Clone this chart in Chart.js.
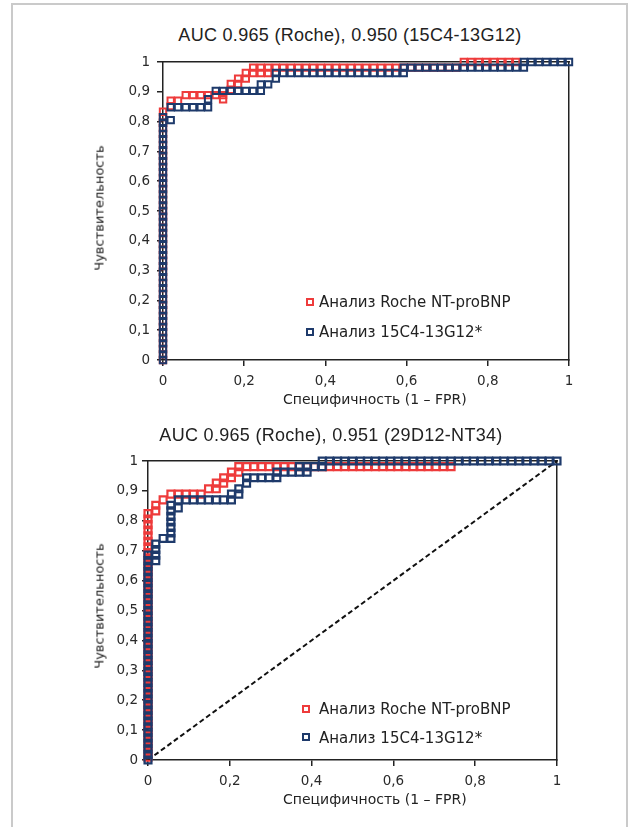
<!DOCTYPE html>
<html><head><meta charset="utf-8">
<script src="https://cdn.jsdelivr.net/npm/chart.js@4"></script>
<style>
html,body{margin:0;padding:0;background:#fff;width:636px;height:827px;overflow:hidden;position:relative}
.frame{position:absolute;left:11px;top:3px;width:613px;height:900px;border:2px solid #cacaca;border-bottom:none}
canvas{position:absolute}
.t{position:absolute;white-space:nowrap;line-height:1;color:#222}
.title{font-family:"Liberation Sans",Arial,sans-serif;font-size:18px;letter-spacing:0.3px;transform:translateX(-50%)}
.axt{font-family:"DejaVu Sans",sans-serif;font-size:14px}
.yt{font-family:"DejaVu Sans",sans-serif;font-size:13px;transform:translate(-50%,-50%) rotate(-90deg)}
.leg{font-family:"DejaVu Sans",sans-serif;font-size:15px}
.sq{position:absolute;width:4px;height:4px;border:2px solid}
</style></head><body>
<div class="frame"></div>

<div class="t title" style="left:350px;top:26px">AUC 0.965 (Roche), 0.950 (15C4-13G12)</div>
<canvas id="c1" width="560" height="380" style="left:60px;top:40px"></canvas>
<div class="t yt" style="left:98.5px;top:208px">Чувствительность</div>
<div class="t axt" style="left:283px;top:392px">Специфичность (1 – FPR)</div>
<span class="sq" style="left:306px;top:297.7px;border-color:#ee3b3b"></span>
<div class="t leg" style="left:319px;top:294.6px">Анализ Roche NT-proBNP</div>
<span class="sq" style="left:306px;top:327.7px;border-color:#1e3a6b"></span>
<div class="t leg" style="left:319px;top:324.6px">Анализ 15C4-13G12*</div>

<div class="t title" style="left:331px;top:426px">AUC 0.965 (Roche), 0.951 (29D12-NT34)</div>
<canvas id="c2" width="580" height="380" style="left:40px;top:440px"></canvas>
<div class="t yt" style="left:98.5px;top:606px">Чувствительность</div>
<div class="t axt" style="left:283px;top:792px">Специфичность (1 – FPR)</div>
<span class="sq" style="left:302px;top:705px;border-color:#ee3b3b"></span>
<div class="t leg" style="left:319px;top:702.3px">Анализ Roche NT-proBNP</div>
<span class="sq" style="left:302px;top:733.3px;border-color:#1e3a6b"></span>
<div class="t leg" style="left:319px;top:730.6px">Анализ 15C4-13G12*</div>

<script>
// ---- tick values / labels ----
const xTickValues = [0, 0.2, 0.4, 0.6, 0.8, 1];
const xTickLabels = ['0', '0,2', '0,4', '0,6', '0,8', '1'];
const yTickValues = [0, 0.1, 0.2, 0.3, 0.4, 0.5, 0.6, 0.7, 0.8, 0.9, 1];
const yTickLabels = ['0', '0,1', '0,2', '0,3', '0,4', '0,5', '0,6', '0,7', '0,8', '0,9', '1'];

// ---- chart 1: [1 - specificity (FPR), sensitivity] ----
const roche1 = [
 [0,0],[0,.019],[0,.037],[0,.056],[0,.074],[0,.093],[0,.111],[0,.130],[0,.148],[0,.167],[0,.185],[0,.204],[0,.222],[0,.241],[0,.259],[0,.278],[0,.296],[0,.315],[0,.333],[0,.352],[0,.370],[0,.389],[0,.407],[0,.426],[0,.444],[0,.463],[0,.481],[0,.500],[0,.519],[0,.537],[0,.556],[0,.574],[0,.593],[0,.611],[0,.630],[0,.648],[0,.667],[0,.685],[0,.704],[0,.722],[0,.741],[0,.759],[0,.778],[0,.796],[0,.815],[0,.833],
 [.019,.852],[.019,.870],[.037,.870],[.056,.889],[.074,.889],[.093,.889],[.111,.889],[.130,.889],[.148,.875],[.148,.889],
 [.167,.907],[.167,.926],[.185,.926],[.185,.944],[.204,.944],[.204,.963],[.222,.963],[.241,.963],[.259,.963],
 [.222,.981],[.241,.981],[.259,.981],[.278,.981],[.296,.981],[.315,.981],[.333,.981],[.352,.981],[.370,.981],[.389,.981],[.407,.981],[.426,.981],[.444,.981],[.463,.981],[.481,.981],[.500,.981],[.519,.981],[.537,.981],[.556,.981],[.574,.981],[.593,.981],[.611,.981],[.630,.981],[.648,.981],[.667,.981],[.685,.981],[.704,.981],[.722,.981],
 [.741,1],[.759,1],[.778,1],[.796,1],[.815,1],[.833,1],[.852,1],[.870,1]
];
const assay1 = [
 [0,0],[0,.019],[0,.037],[0,.056],[0,.074],[0,.093],[0,.111],[0,.130],[0,.148],[0,.167],[0,.185],[0,.204],[0,.222],[0,.241],[0,.259],[0,.278],[0,.296],[0,.315],[0,.333],[0,.352],[0,.370],[0,.389],[0,.407],[0,.426],[0,.444],[0,.463],[0,.481],[0,.500],[0,.519],[0,.537],[0,.556],[0,.574],[0,.593],[0,.611],[0,.630],[0,.648],[0,.667],[0,.685],[0,.704],[0,.722],[0,.741],[0,.759],[0,.778],[0,.796],[0,.815],
 [.019,.805],[.019,.848],[.037,.848],[.056,.848],[.074,.848],[.093,.848],[.111,.848],[.111,.875],
 [.130,.903],[.148,.903],[.167,.903],[.185,.903],[.204,.903],[.222,.903],[.241,.903],[.241,.925],[.259,.925],[.278,.944],
 [.278,.963],[.296,.963],[.315,.963],[.333,.963],[.352,.963],[.370,.963],[.389,.963],[.407,.963],[.426,.963],[.444,.963],[.463,.963],[.481,.963],[.500,.963],[.519,.963],[.537,.963],[.556,.963],[.574,.963],[.593,.963],
 [.593,.981],[.611,.981],[.630,.981],[.648,.981],[.667,.981],[.685,.981],[.704,.981],[.722,.981],[.741,.981],[.759,.981],[.778,.981],[.796,.981],[.815,.981],[.833,.981],[.852,.981],[.870,.981],[.889,.981],
 [.889,1],[.907,1],[.926,1],[.944,1],[.963,1],[.981,1],[1,1]
];

// ---- chart 2 ----
const roche2 = [
 [0,.009],[0,.028],[0,.046],[0,.065],[0,.083],[0,.102],[0,.120],[0,.139],[0,.157],[0,.176],[0,.194],[0,.213],[0,.231],[0,.250],[0,.269],[0,.287],[0,.306],[0,.324],[0,.343],[0,.361],[0,.380],[0,.398],[0,.417],[0,.435],[0,.454],[0,.472],[0,.491],[0,.509],[0,.528],[0,.546],[0,.565],[0,.583],[0,.602],[0,.620],[0,.639],[0,.657],[0,.676],[0,.694],[0,.713],[0,.731],[0,.750],[0,.769],[0,.787],[0,.806],[0,.824],
 [.019,.833],[.019,.852],[.037,.870],[.056,.889],[.074,.889],[.093,.889],[.111,.889],[.130,.889],
 [.148,.907],[.167,.907],[.167,.926],[.185,.926],[.185,.944],[.204,.944],[.204,.963],[.222,.963],[.222,.981],
 [.241,.981],[.259,.981],[.278,.981],[.296,.981],[.315,.981],[.333,.981],[.352,.981],[.370,.981],[.389,.981],[.407,.981],[.426,.981],[.444,.981],[.463,.981],[.481,.981],[.500,.981],[.519,.981],[.537,.981],[.556,.981],[.574,.981],[.593,.981],[.611,.981],[.630,.981],[.648,.981],[.667,.981],[.685,.981],[.704,.981],[.722,.981],[.741,.981]
];
const assay2 = [
 [0,0],[0,.019],[0,.037],[0,.056],[0,.074],[0,.093],[0,.111],[0,.130],[0,.148],[0,.167],[0,.185],[0,.204],[0,.222],[0,.241],[0,.259],[0,.278],[0,.296],[0,.315],[0,.333],[0,.352],[0,.370],[0,.389],[0,.407],[0,.426],[0,.444],[0,.463],[0,.481],[0,.500],[0,.519],[0,.537],[0,.556],[0,.574],[0,.593],[0,.611],[0,.630],[0,.648],[0,.667],[0,.685],
 [.019,.667],[.019,.685],[.019,.704],[.019,.722],[.037,.741],
 [.056,.741],[.056,.759],[.056,.778],[.056,.796],[.056,.815],[.056,.833],[.056,.852],[.074,.843],
 [.074,.870],[.093,.870],[.111,.870],[.130,.870],[.148,.870],[.167,.870],[.185,.870],[.204,.870],
 [.204,.889],[.222,.889],[.222,.907],[.241,.926],[.241,.944],[.259,.944],[.278,.944],[.296,.944],[.315,.944],
 [.315,.963],[.333,.963],[.352,.963],[.370,.963],[.389,.963],[.370,.981],[.389,.981],[.407,.981],[.426,.981],
 [.426,1],[.444,1],[.463,1],[.481,1],[.500,1],[.519,1],[.537,1],[.556,1],[.574,1],[.593,1],[.611,1],[.630,1],[.648,1],[.667,1],[.685,1],[.704,1],[.722,1],[.741,1],[.759,1],[.778,1],[.796,1],[.815,1],[.833,1],[.852,1],[.870,1],[.889,1],[.907,1],[.926,1],[.944,1],[.963,1],[.981,1],[1,1]
];
const chanceLine = [[0,0],[1,1]];

const RED = '#ee3b3b', BLUE = '#1e3a6b', INK = '#222';

function pointsSet(label, pts, color, r, bw, order) {
  return { label, data: pts.map(p => ({x: p[0], y: p[1]})), showLine: false,
    pointStyle: 'rect', pointRadius: r, pointHoverRadius: r, pointBorderColor: color,
    pointBackgroundColor: 'rgba(0,0,0,0)', pointBorderWidth: bw, clip: false, order };
}

function scales(yW, xH, yPad) {
  const tickFont = {family: 'DejaVu Sans', size: 13.5};
  return {
    x: { type: 'linear', position: 'bottom', min: 0, max: 1, display: true,
      afterBuildTicks: s => { s.ticks = xTickValues.map(v => ({value: v})); },
      ticks: { autoSkip: false, maxRotation: 0, padding: 7, color: '#2a2a2a', font: tickFont,
               callback: (v, i) => xTickLabels[i] },
      grid: { display: true, drawOnChartArea: false, drawTicks: true, tickLength: 6, color: INK, lineWidth: 1.5 },
      border: { display: true, color: INK, width: 1.5 },
      afterFit: s => { s.height = xH; } },
    y: { type: 'linear', position: 'left', min: 0, max: 1, display: true,
      afterBuildTicks: s => { s.ticks = yTickValues.map(v => ({value: v})); },
      ticks: { autoSkip: false, padding: yPad, color: '#2a2a2a', font: tickFont,
               callback: (v, i) => yTickLabels[i] },
      grid: { display: true, drawOnChartArea: false, drawTicks: true, tickLength: 6, color: INK, lineWidth: 1.5 },
      border: { display: true, color: INK, width: 1.5 },
      afterFit: s => { s.width = yW; } },
    xTop: { type: 'linear', position: 'top', min: 0, max: 1, display: true,
      ticks: { display: false }, grid: { display: true, drawOnChartArea: false, drawTicks: false },
      border: { display: true, color: INK, width: 1.5 }, afterFit: s => { s.height = 0; } },
    yRight: { type: 'linear', position: 'right', min: 0, max: 1, display: true,
      ticks: { display: false }, grid: { display: true, drawOnChartArea: false, drawTicks: false },
      border: { display: true, color: INK, width: 1.5 }, afterFit: s => { s.width = 0; } }
  };
}

function baseOptions(pad, yW, xH, yPad) {
  return { responsive: false, animation: false, devicePixelRatio: 1,
    layout: { padding: pad },
    plugins: { legend: { display: false }, tooltip: { enabled: false }, title: { display: false } },
    scales: scales(yW, xH, yPad) };
}

new Chart(document.getElementById('c1'), {
  type: 'scatter',
  data: { datasets: [
    pointsSet('Анализ Roche NT-proBNP', roche1, RED, 4.5, 2.0, 1),
    pointsSet('Анализ 15C4-13G12*', assay1, BLUE, 4.5, 2.0, 0)
  ]},
  options: baseOptions({top: 22, right: 51, bottom: 20, left: 0}, 103, 40, 7)
});

new Chart(document.getElementById('c2'), {
  type: 'scatter',
  data: { datasets: [
    { label: 'chance', data: chanceLine.map(p => ({x: p[0], y: p[1]})), showLine: true,
      borderColor: '#111', borderWidth: 2, borderDash: [5, 3], pointRadius: 0, clip: false, order: 2 },
    pointsSet('Анализ Roche NT-proBNP', roche2, RED, 4.9, 2.2, 1),
    pointsSet('Анализ 15C4-13G12*', assay2, BLUE, 4.9, 2.2, 0)
  ]},
  options: baseOptions({top: 21, right: 63, bottom: 20, left: 0}, 108, 40, 4)
});
</script>
</body></html>
